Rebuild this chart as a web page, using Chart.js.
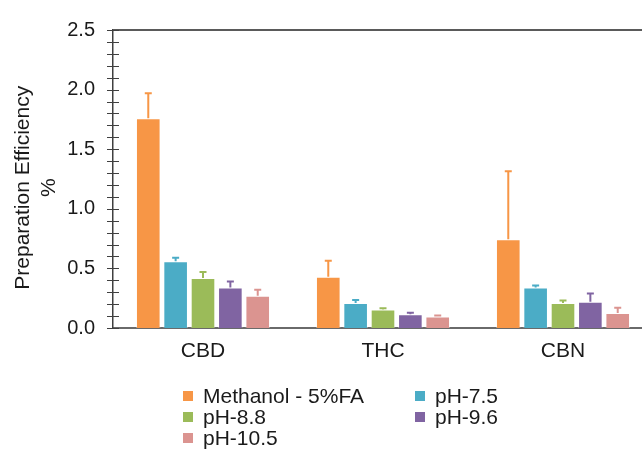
<!DOCTYPE html>
<html>
<head>
<meta charset="utf-8">
<script src="https://cdn.jsdelivr.net/npm/chart.js@4.4.1/dist/chart.umd.min.js"></script>
<style>
  html, body { margin: 0; padding: 0; background: #fff; overflow: hidden; }
  #wrap { position: relative; width: 642px; height: 453px; overflow: hidden; }
  #wrap canvas { position: absolute; left: 0; top: 0; }
  #legend {
    position: absolute; left: 183px; top: 385px;
    font: 21px "Liberation Sans", Arial, sans-serif; color: #1a1a1a;
    display: grid; grid-template-columns: 232px auto; line-height: 21px;
  }
  .item { display: flex; align-items: center; white-space: nowrap; }
  .sw { width: 10px; height: 10px; margin-right: 10px; }
</style>
</head>
<body>
<div id="wrap">
  <canvas id="chart" width="660" height="453"></canvas>
  <div id="legend"></div>
</div>
<script>
const categories = ['CBD', 'THC', 'CBN'];
const seriesNames = ['Methanol - 5%FA', 'pH-7.5', 'pH-8.8', 'pH-9.6', 'pH-10.5'];
const seriesColors = ['#F79646', '#4BACC6', '#9BBB59', '#8064A2', '#DB9490'];

const methanolVals = [1.76, 0.43, 0.745];
const ph75Vals = [0.56, 0.21, 0.34];
const ph88Vals = [0.42, 0.155, 0.21];
const ph96Vals = [0.34, 0.116, 0.22];
const ph105Vals = [0.27, 0.097, 0.125];

// upper error (sd) for each bar
const methanolErr = [0.21, 0.135, 0.57];
const ph75Err = [0.03, 0.025, 0.017];
const ph88Err = [0.05, 0.01, 0.02];
const ph96Err = [0.05, 0.011, 0.07];
const ph105Err = [0.05, 0.008, 0.045];

const yTicks = [0, 0.5, 1.0, 1.5, 2.0, 2.5];

const values = [methanolVals, ph75Vals, ph88Vals, ph96Vals, ph105Vals];
const errors = [methanolErr, ph75Err, ph88Err, ph96Err, ph105Err];

const FONT = '"Liberation Sans", Arial, sans-serif';

const errorBars = {
  id: 'errorBars',
  afterDatasetsDraw(chart) {
    const ctx = chart.ctx;
    const y = chart.scales.y;
    chart.data.datasets.forEach((ds, i) => {
      const meta = chart.getDatasetMeta(i);
      meta.data.forEach((bar, j) => {
        const top = y.getPixelForValue(ds.data[j] + ds.errors[j]);
        ctx.save();
        ctx.strokeStyle = ds.backgroundColor;
        ctx.lineWidth = 2;
        ctx.beginPath();
        ctx.moveTo(bar.x, bar.y);
        ctx.lineTo(bar.x, top);
        ctx.moveTo(bar.x - 3.5, top);
        ctx.lineTo(bar.x + 3.5, top);
        ctx.stroke();
        ctx.restore();
      });
    });
  }
};

// top frame line and tick marks that cross the y axis
const axisMarks = {
  id: 'axisMarks',
  afterDraw(chart) {
    const ctx = chart.ctx;
    const area = chart.chartArea;
    const y = chart.scales.y;
    ctx.save();
    ctx.strokeStyle = '#5a5a5a';
    ctx.lineWidth = 2;
    ctx.beginPath();
    ctx.moveTo(area.left, area.top);
    ctx.lineTo(area.right, area.top);
    ctx.stroke();
    ctx.strokeStyle = '#404040';
    ctx.lineWidth = 1.2;
    ctx.beginPath();
    y.ticks.forEach(t => {
      const py = Math.round(y.getPixelForValue(t.value)) + 0.5;
      ctx.moveTo(area.left - 6, py);
      ctx.lineTo(area.left + 6, py);
    });
    ctx.stroke();
    ctx.restore();
  }
};

new Chart(document.getElementById('chart'), {
  type: 'bar',
  data: {
    labels: categories,
    datasets: seriesNames.map((name, i) => ({
      label: name,
      data: values[i],
      errors: errors[i],
      backgroundColor: seriesColors[i],
      borderColor: 'rgba(255,255,255,0.35)',
      borderWidth: 1,
      barPercentage: 0.9,
      categoryPercentage: 0.76
    }))
  },
  options: {
    responsive: false,
    animation: false,
    layout: { padding: { top: 27, right: 7, bottom: 0, left: 0 } },
    plugins: {
      legend: { display: false },
      tooltip: { enabled: false }
    },
    scales: {
      x: {
        grid: { display: false, drawTicks: false },
        border: { display: true, color: '#6a6a6a', width: 2 },
        ticks: { color: '#1a1a1a', font: { family: FONT, size: 21 }, padding: 11 },
        afterFit: s => { s.height = 125; }
      },
      y: {
        min: 0,
        max: 2.5,
        grid: { display: false, drawTicks: false },
        border: { display: true, color: '#404040', width: 1.5 },
        ticks: {
          stepSize: 0.1,
          autoSkip: false,
          padding: 18,
          color: '#1a1a1a',
          font: { family: FONT, size: 20 },
          callback: v => {
            const hit = yTicks.find(t => Math.abs(t - v) < 1e-6);
            return hit === undefined ? '' : hit.toFixed(1);
          }
        },
        title: {
          display: true,
          // trailing spaces nudge the rotated title a little lower, as in the original
          text: ['Preparation Efficiency   ', '%   '],
          color: '#1a1a1a',
          font: { family: FONT, size: 21, lineHeight: 1.2 },
          padding: { top: 11, bottom: 0 }
        },
        afterFit: s => { s.width = 113; }
      }
    }
  },
  plugins: [errorBars, axisMarks]
});

// legend laid out in two columns like the original
const legend = document.getElementById('legend');
seriesNames.forEach((name, i) => {
  const item = document.createElement('div');
  item.className = 'item';
  const sw = document.createElement('span');
  sw.className = 'sw';
  sw.style.background = seriesColors[i];
  const txt = document.createElement('span');
  txt.textContent = name;
  item.appendChild(sw);
  item.appendChild(txt);
  legend.appendChild(item);
});
</script>
</body>
</html>
